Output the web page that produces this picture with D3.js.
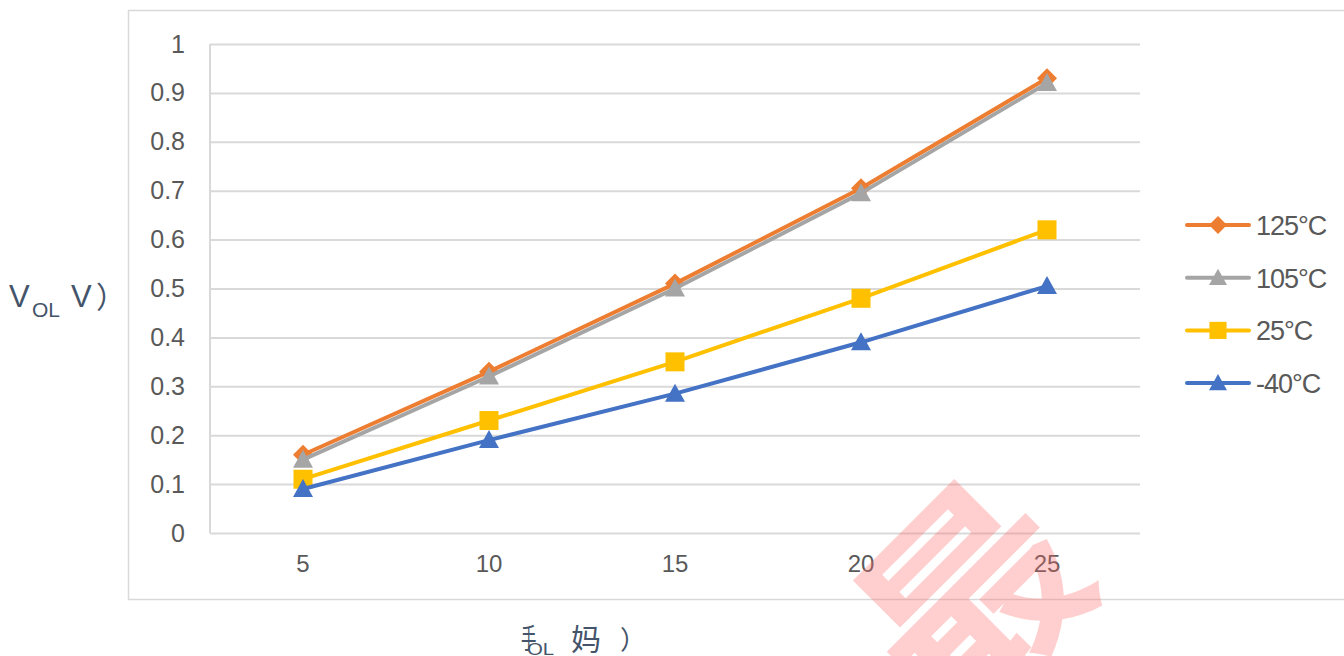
<!DOCTYPE html>
<html>
<head>
<meta charset="utf-8">
<script src="https://cdn.jsdelivr.net/npm/d3@7"></script>
<style>
  html, body { margin: 0; padding: 0; background: #fff; }
  svg { display: block; }
</style>
</head>
<body>
<svg id="chart" width="1344" height="656"></svg>
<script>
// Output low-level voltage vs. sink current at four temperatures
const currents = ["5", "10", "15", "20", "25"];
const yTicks = [0, 0.1, 0.2, 0.3, 0.4, 0.5, 0.6, 0.7, 0.8, 0.9, 1];
const seriesNames = ["125°C", "105°C", "25°C", "-40°C"];
const v125 = [0.16, 0.33, 0.51, 0.705, 0.93];
const v105 = [0.15, 0.32, 0.50, 0.695, 0.92];
const v25 = [0.11, 0.23, 0.35, 0.48, 0.62];
const vM40 = [0.09, 0.19, 0.285, 0.39, 0.505];

const series = [
  { name: seriesNames[0], values: v125, color: "#ED7D31", marker: "diamond" },
  { name: seriesNames[1], values: v105, color: "#A5A5A5", marker: "triangle" },
  { name: seriesNames[2], values: v25, color: "#FFC000", marker: "square" },
  { name: seriesNames[3], values: vM40, color: "#4472C4", marker: "triangle" }
];

const svg = d3.select("#chart");
const plot = { left: 210, right: 1140, top: 44, bottom: 533 };
const fontLatin = "'Liberation Sans', Arial, sans-serif";
const fontCJK = "'Noto Sans CJK SC', sans-serif";
const titleColor = "#44546A";
const labelColor = "#595959";
const gridColor = "#D9D9D9";

// Chart frame
svg.append("rect")
  .attr("x", 128.5).attr("y", 10.5)
  .attr("width", 1300).attr("height", 589)
  .attr("fill", "#fff").attr("stroke", gridColor).attr("stroke-width", 1.5);

const x = d3.scaleBand().domain(currents).range([plot.left, plot.right]).padding(0);
const y = d3.scaleLinear().domain([0, 1]).range([plot.bottom, plot.top]);
const cx = d => x(d) + x.bandwidth() / 2;

// Horizontal gridlines and y labels
const yAxis = d3.axisLeft(y).tickValues(yTicks).tickSize(-(plot.right - plot.left)).tickPadding(25)
  .tickFormat(d => d3.format("~g")(d));
const gy = svg.append("g").attr("transform", `translate(${plot.left},0)`).call(yAxis);
gy.select(".domain").remove();
gy.selectAll(".tick line").attr("stroke", gridColor).attr("stroke-width", 2);
gy.selectAll(".tick text")
  .attr("fill", labelColor).attr("font-family", fontLatin).attr("font-size", 25);

// Category axis labels
const xAxis = d3.axisBottom(x).tickSize(0).tickPadding(22);
const gx = svg.append("g").attr("transform", `translate(0,${plot.bottom})`).call(xAxis);
gx.select(".domain").remove();
gx.selectAll(".tick text")
  .attr("fill", labelColor).attr("font-family", fontLatin).attr("font-size", 24);

// Left axis line
svg.append("line")
  .attr("x1", plot.left).attr("x2", plot.left)
  .attr("y1", plot.top).attr("y2", plot.bottom)
  .attr("stroke", gridColor).attr("stroke-width", 2);

// Marker shapes
function markerPath(type) {
  if (type === "diamond") return "M0,-10L10,0L0,10L-10,0Z";
  if (type === "square") return "M-9.5,-9.5H9.5V9.5H-9.5Z";
  return "M0,-10L10,8L-10,8Z";
}

const line = d3.line().x((d, i) => cx(currents[i])).y(d => y(d));

const gSeries = svg.append("g");
series.forEach(s => {
  const g = gSeries.append("g");
  g.append("path")
    .attr("d", line(s.values))
    .attr("fill", "none").attr("stroke", s.color)
    .attr("stroke-width", 4).attr("stroke-linejoin", "round").attr("stroke-linecap", "round");
  g.selectAll("path.mk").data(s.values).join("path")
    .attr("class", "mk")
    .attr("d", markerPath(s.marker))
    .attr("transform", (d, i) => `translate(${cx(currents[i])},${y(d)})`)
    .attr("fill", s.color);
});

// Legend
const legend = svg.append("g").attr("transform", "translate(1187,225)");
series.forEach((s, i) => {
  const g = legend.append("g").attr("transform", `translate(0,${i * 52.7})`);
  g.append("line").attr("x1", 0).attr("x2", 62).attr("y1", 0).attr("y2", 0)
    .attr("stroke", s.color).attr("stroke-width", 4).attr("stroke-linecap", "round");
  g.append("path").attr("d", markerPath(s.marker))
    .attr("transform", "translate(31,0) scale(0.9)").attr("fill", s.color);
  g.append("text").attr("x", 69).attr("y", 10)
    .attr("fill", labelColor).attr("font-family", fontLatin).attr("font-size", 27)
    .attr("letter-spacing", -1)
    .text(s.name);
});

// Y axis title
const yt = svg.append("g").attr("fill", titleColor);
yt.append("text").attr("x", 9).attr("y", 307)
  .attr("font-family", fontLatin).attr("font-size", 31).text("V");
yt.append("text").attr("x", 32).attr("y", 317)
  .attr("font-family", fontLatin).attr("font-size", 21).text("OL");
yt.append("text").attr("x", 71).attr("y", 307)
  .attr("font-family", fontLatin).attr("font-size", 31).text("V");
yt.append("text").attr("x", 96).attr("y", 308)
  .attr("font-family", fontCJK).attr("font-size", 30).text("）");

// X axis title
const xt = svg.append("g").attr("fill", titleColor);
xt.append("text").attr("transform", "translate(521,649) scale(0.55,1)")
  .attr("font-family", fontCJK).attr("font-size", 28).text("手");
xt.append("text").attr("transform", "translate(527,655) scale(1.2,1)")
  .attr("font-family", fontLatin).attr("font-size", 17).text("OL");
xt.append("text").attr("x", 571).attr("y", 650)
  .attr("font-family", fontCJK).attr("font-size", 30).text("妈");
xt.append("text").attr("x", 620).attr("y", 649)
  .attr("font-family", fontCJK).attr("font-size", 26).text("）");

// Watermark
svg.append("text")
  .attr("transform", "translate(952,730) rotate(-45)")
  .attr("font-family", fontCJK).attr("font-weight", 700).attr("font-size", 215)
  .attr("fill", "#FF6B6B").attr("fill-opacity", 0.32)
  .text("最");
</script>
</body>
</html>
